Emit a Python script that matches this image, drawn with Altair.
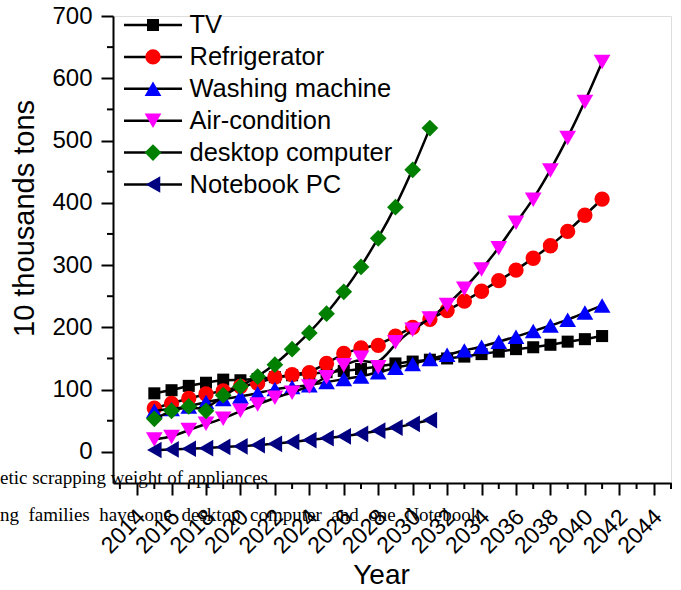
import altair as alt
import pandas as pd

# ---------------- data ----------------
years_long = list(range(2015, 2042))   # 27 points
years_short = list(range(2015, 2032))  # 17 points

tv = [94, 99, 106, 111, 116, 115, 117, 120, 123, 125, 128, 130, 133, 137,
      142, 145, 148, 150, 153, 157, 161, 165, 168, 172, 177, 181, 186]
refrigerator = [70, 78, 86, 93, 98, 105, 110, 120, 124, 127, 142, 158, 167, 171,
                186, 200, 213, 227, 242, 258, 275, 292, 311, 331, 354, 380, 406]
washing = [66, 69, 73, 80, 85, 89, 94, 101, 104, 107, 112, 117, 121, 128,
           135, 141, 149, 156, 163, 169, 177, 185, 194, 203, 212, 224, 235]
aircon = [20, 24, 35, 45, 53, 66, 76, 87, 95, 105, 120, 139, 151, 136,
          176, 196, 214, 236, 262, 293, 327, 368, 405, 452, 504, 562, 626]
desktop = [53, 66, 73, 66, 91, 105, 121, 140, 165, 191, 222, 257, 297, 343,
           393, 453, 520]
notebook = [3, 4, 5, 6, 8, 9, 11, 13, 16, 19, 22, 25, 29, 34, 39, 45, 51]

series_names = ["TV", "Refrigerator", "Washing machine", "Air-condition",
                "desktop computer", "Notebook PC"]
series_values = [tv, refrigerator, washing, aircon, desktop, notebook]

x_tick_values = list(range(2014, 2045, 2))
x_minor_values = list(range(2013, 2046, 2))
y_tick_values = list(range(0, 701, 100))
y_minor_values = list(range(50, 700, 100))

NB = "\u00a0"
note_lines = ["etic scrapping weight of appliances",
              (" " + NB).join(["ng", "families", "have", "one", "desktop",
                               "computer", "and", "one", "Notebook"])]

# ---------------- styles ----------------
series_colors = ["#000000", "#FF0000", "#0000FF", "#FF00FF", "#008000", "#000080"]
series_shapes = ["square", "circle", "triangle-up", "triangle-down", "diamond",
                 "triangle-left"]
marker_sizes = [145, 235, 280, 280, 280, 280]

FONT = "Liberation Sans"
W, H = 558, 467

rows = []
for name, vals in zip(series_names, series_values):
    yrs = years_long if len(vals) == len(years_long) else years_short
    for yv, v in zip(yrs, vals):
        rows.append({"series": name, "year": yv, "value": v})
df = pd.DataFrame(rows)

xscale = alt.Scale(domain=[2012.6, 2045], nice=False, zero=False)
yscale = alt.Scale(domain=[-50, 700], nice=False, zero=False)

x_axis = alt.Axis(values=x_tick_values, format="d", labelAngle=-45,
                  labelAlign="right", labelBaseline="middle",
                  labelFont=FONT, labelFontSize=23, labelColor="black",
                  labelPadding=18, labelOffset=4, labelOverlap=False,
                  labelFlush=False, labelBound=False,
                  tickSize=12, tickWidth=2, tickColor="black",
                  domainWidth=2, domainColor="black", grid=False,
                  title="Year", titleFont=FONT, titleFontSize=28,
                  titleFontWeight="normal", titleColor="black",
                  titleX=268, titleY=100, titleAlign="center",
                  titleBaseline="alphabetic")
y_axis = alt.Axis(values=y_tick_values, format="d",
                  labelFont=FONT, labelFontSize=24, labelColor="black",
                  labelPadding=9, tickSize=12, tickWidth=2, tickColor="black",
                  domainWidth=2, domainColor="black", grid=False,
                  title="10 thousands tons", titleFont=FONT, titleFontSize=29,
                  titleFontWeight="normal", titleColor="black",
                  titleAngle=-90, titleX=-80, titleY=202, titleAlign="center",
                  titleBaseline="alphabetic")

x_enc = alt.X("year:Q", scale=xscale, axis=x_axis, title="Year")
y_enc = alt.Y("value:Q", scale=yscale, axis=y_axis, title="10 thousands tons")

base = alt.Chart(df)
layers = []

# minor ticks
ymin_df = pd.DataFrame({"value": y_minor_values})
layers.append(alt.Chart(ymin_df).mark_rule(color="black", strokeWidth=2).encode(
    y=y_enc, x=alt.value(-6), x2=alt.value(0)))
xmin_df = pd.DataFrame({"year": x_minor_values})
layers.append(alt.Chart(xmin_df).mark_rule(color="black", strokeWidth=2).encode(
    x=x_enc, y=alt.value(H), y2=alt.value(H + 6)))

for name, col, shp, sz in zip(series_names, series_colors, series_shapes, marker_sizes):
    sub = base.transform_filter(alt.datum.series == name)
    layers.append(sub.mark_line(interpolate="basis", color="black",
                                strokeWidth=2.5).encode(x=x_enc, y=y_enc))
    layers.append(sub.mark_point(filled=True, shape=shp, size=sz, color=col,
                                 opacity=1, strokeWidth=0).encode(x=x_enc, y=y_enc))

# legend (drawn inside the plot, top-left)
leg_df = pd.DataFrame({"name": series_names, "idx": list(range(len(series_names))),
                       "color": series_colors, "shape": series_shapes,
                       "size": marker_sizes})
leg = alt.Chart(leg_df).transform_calculate(ly="9 + 31.9 * datum.idx")
layers.append(leg.mark_rule(color="black", strokeWidth=2.5).encode(
    y=alt.Y("ly:Q", scale=None), x=alt.value(11), x2=alt.value(69)))
layers.append(leg.mark_point(filled=True, opacity=1, strokeWidth=0).encode(
    x=alt.value(40), y=alt.Y("ly:Q", scale=None),
    color=alt.Color("color:N", scale=None),
    shape=alt.Shape("shape:N", scale=None),
    size=alt.Size("size:Q", scale=None)))
layers.append(leg.mark_text(align="left", baseline="middle", font=FONT,
                            fontSize=25.5, color="black").encode(
    x=alt.value(76.5), y=alt.Y("ly:Q", scale=None), text="name:N"))

# stray document text visible behind the chart
note_df = pd.DataFrame({"t": note_lines, "idx": [0, 1]})
layers.append(alt.Chart(note_df).transform_calculate(ly="468 + 37 * datum.idx")
              .mark_text(align="left", baseline="alphabetic",
                         font="Liberation Serif", fontSize=19, color="black")
              .encode(x=alt.value(-113), y=alt.Y("ly:Q", scale=None), text="t:N"))

chart = alt.layer(*layers).properties(
    width=W, height=H,
    padding={"left": 113, "top": 16, "right": 10, "bottom": 107},
    autosize=alt.AutoSizeParams(type="none"),
).configure_view(stroke=None).configure(background="white")

chart.save("out.html", embed_options={"renderer": "svg", "actions": False})
